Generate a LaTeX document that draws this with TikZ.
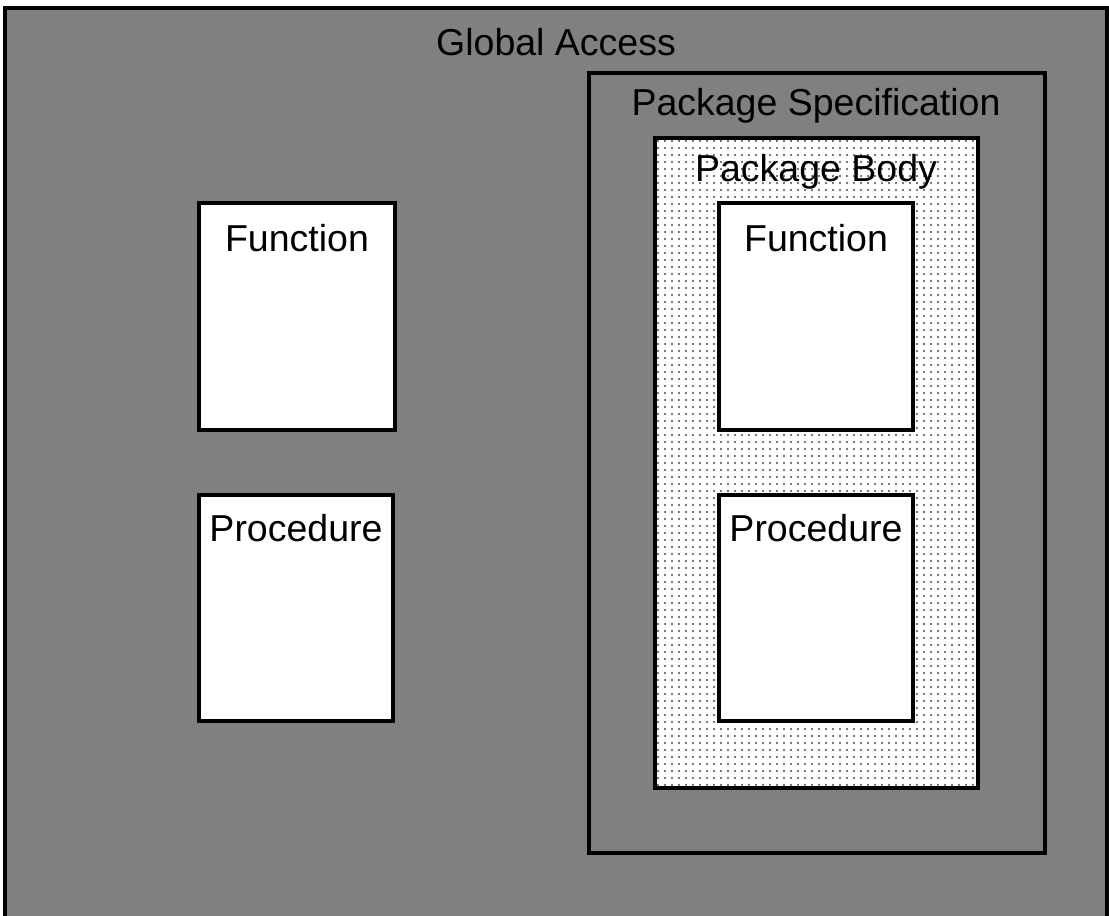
\documentclass[tikz,border=0pt]{standalone}
\usepackage{fontspec}
\setmainfont{Liberation Sans}
\usetikzlibrary{calc}

\begin{document}
\begin{tikzpicture}[x=1pt,y=-1pt,
    box/.style={draw=black,line width=4.5pt},
    lbl/.style={font=\fontsize{37.5}{42}\selectfont,inner sep=0pt,anchor=center}]
		
		\useasboundingbox (0,0) rectangle (1109,916);
		\clip (0,0) rectangle (1109,916);
		
		% outer area
		\coordinate (GA1) at (5,8);
		\coordinate (GA2) at (1107,940);
		\fill [white] (0,0) rectangle (1109,916);
		\draw [box, fill={rgb,255:red,128;green,128;blue,128}] (GA1) rectangle (GA2);
		\node [lbl] (global) at (556,42) {Global Access};
		
		% package specification
		\coordinate (PS1) at (589,73);
		\coordinate (PS2) at (1045,853);
		\draw [box] (PS1) rectangle (PS2);
		\node [lbl] (spec) at (816,106) {Package Specification};
		
		% package body, dotted
		\coordinate (PB1) at (655,138);
		\coordinate (PB2) at (978,788);
		\fill [white] (PB1) rectangle (PB2);
		\begin{scope}
			\clip (PB1) rectangle (PB2);
			\foreach \i in {0,...,47}
				\foreach \j in {0,...,94}
					\fill [black!70] ({658+7*\i},{141+7*\j}) circle (1.1);
		\end{scope}
		\draw [box] (PB1) rectangle (PB2);
		\node [lbl] (body) at (816,172) {Package Body};
		
		% left boxes
		\draw [box, fill=white] (199,203) rectangle (395,430);
		\node [lbl] (fun1) at (297,238) {Function};
		\draw [box, fill=white] (199,495) rectangle (393,721);
		\node [lbl] (proc1) at (296,528) {Procedure};
		
		% boxes inside the body
		\draw [box, fill=white] (719,203) rectangle (913,430);
		\node [lbl] (fun2) at (816,238) {Function};
		\draw [box, fill=white] (719,495) rectangle (913,721);
		\node [lbl] (proc2) at (816,528) {Procedure};
		
\end{tikzpicture}
\end{document}
